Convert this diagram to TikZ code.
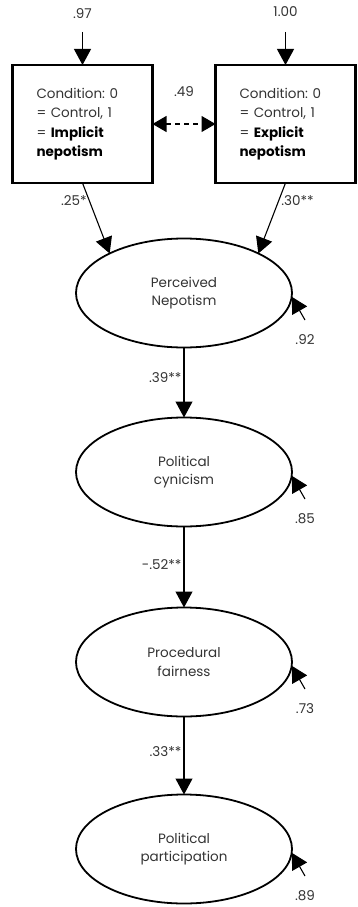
\documentclass[tikz,border=0pt]{standalone}
\usepackage{fontspec}
\setmainfont{Poppins}
\usetikzlibrary{positioning,arrows.meta,shapes.geometric}
\newcommand{\bfk}[1]{\textcolor{black}{\textbf{#1}}}
\frenchspacing

\begin{document}
\begin{tikzpicture}[
    x=1pt, y=1pt,
    every node/.style={font=\fontsize{13.5}{19.5}\selectfont, text=black!80},
    box/.style={draw, line width=2.6pt, minimum width=140pt, minimum height=118pt, text width=92pt, inner xsep=24pt, align=left, outer sep=0pt},
    latent/.style={draw, ellipse, line width=1.8pt, minimum width=216pt, minimum height=109pt, inner sep=0pt, outer sep=0pt, align=center, font=\fontsize{13.5}{18.5}\selectfont},
    arr/.style={-{Triangle[length=16pt, width=17pt]}, line width=1.1pt},
    dbl/.style={{Triangle[length=14pt, width=16pt]}-{Triangle[length=14pt, width=16pt]}, line width=1.1pt, dash pattern=on 5pt off 4pt},
    lbl/.style={inner sep=2pt},
    node distance=63pt
]
\useasboundingbox (0,0) rectangle (357,-907);

\node[box] (impl) at (82.5,-124) {Condition: 0\\= Control, 1\\= \bfk{Implicit}\\\bfk{nepotism}};
\node[box, right=of impl] (expl) {Condition: 0\\= Control, 1\\= \bfk{Explicit}\\\bfk{nepotism}};

\coordinate (t1) at ([yshift=33pt]impl.north);
\coordinate (t2) at ([yshift=33pt]expl.north);
\node[lbl, above=11pt of t1] (v1) {.97};
\node[lbl, above=13pt of t2] (v2) {1.00};
\draw[arr] (t1) -- (impl);
\draw[arr] (t2) -- (expl);

\draw[dbl] (impl) -- (expl) node[lbl, midway, above=25pt] (cov) {.49};

\node[latent] (nep) at (184,-293) {Perceived\\Nepotism};
\node[latent, below=70pt of nep] (cyn) {Political\\cynicism};
\node[latent, below=81pt of cyn] (fair) {Procedural\\fairness};
\node[latent, below=78pt of fair] (part) {Political\\participation};

\draw[arr] (impl.south) -- (nep.152) node[lbl, pos=0.25, left] (p1) {.25*};
\draw[arr] (expl.south) -- (nep.28) node[lbl, pos=0.25, right] (p2) {.30**};
\draw[arr] (nep) -- (cyn) node[lbl, pos=0.43, left] (p3) {.39**};
\draw[arr] (cyn) -- (fair) node[lbl, pos=0.47, left] (p4) {-.52**};
\draw[arr] (fair) -- (part) node[lbl, pos=0.45, left] (p5) {.33**};

\foreach \n/\v in {nep/.92, cyn/.85, fair/.73, part/.89} {
  \coordinate (r-\n) at ([shift={(13pt,-27pt)}]\n.east);
  \draw[arr] (r-\n) -- (\n.-2);
  \node[lbl, below=12pt of r-\n] (e-\n) {\v};
}
\end{tikzpicture}
\end{document}
